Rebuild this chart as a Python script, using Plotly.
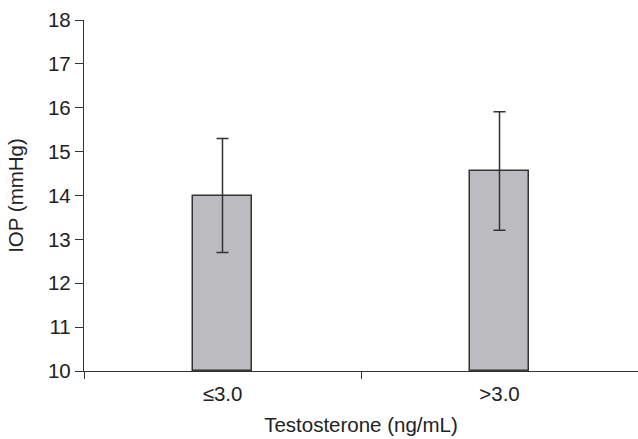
import plotly.graph_objects as go

categories = ["≤3.0", ">3.0"]
means = [14.0, 14.56]
errors = [1.3, 1.35]
y_ticks = [10, 11, 12, 13, 14, 15, 16, 17, 18]

FS = 20.5
FAM = "Liberation Sans, Arial, sans-serif"

fig = go.Figure()
fig.add_trace(go.Bar(
    x=categories, y=[m - 10 for m in means], base=10,
    width=0.216,
    marker=dict(color="#bcbcc0", line=dict(color="#333333", width=1.5)),
    error_y=dict(type="data", array=errors, visible=True, color="#333333", thickness=1.5, width=6),
    hoverinfo="skip",
))
fig.update_layout(
    width=638, height=439, autosize=False,
    margin=dict(l=84, r=0, t=20, b=68, autoexpand=False),
    paper_bgcolor="white", plot_bgcolor="white",
    font=dict(family=FAM, size=FS, color="#222222"),
    showlegend=False,
    bargap=0,
)
fig.update_xaxes(
    showline=True, linecolor="#333333", linewidth=1.3,
    ticks="outside", ticklen=7, tickcolor="#333333", tickwidth=1.3,
    tickson="boundaries", showgrid=False, automargin=False,
    ticklabelstandoff=4,
    tickfont=dict(family=FAM, size=FS, color="#222222"),
    title=dict(text="Testosterone (ng/mL)", standoff=13, font=dict(family=FAM, size=FS, color="#222222")),
)
fig.update_yaxes(
    range=[10, 18], tickvals=y_ticks,
    showline=True, linecolor="#333333", linewidth=1.3,
    ticks="outside", ticklen=8, tickcolor="#333333", tickwidth=1.3,
    showgrid=False, zeroline=False, automargin=False,
    tickfont=dict(family=FAM, size=FS, color="#222222"),
    title=dict(text="IOP (mmHg)", standoff=18, font=dict(family=FAM, size=FS, color="#222222")),
)
fig.write_html(
    "out.html",
    config={"displayModeBar": False},
    post_script="document.body.style.margin='0px';document.body.style.overflow='hidden';",
)
